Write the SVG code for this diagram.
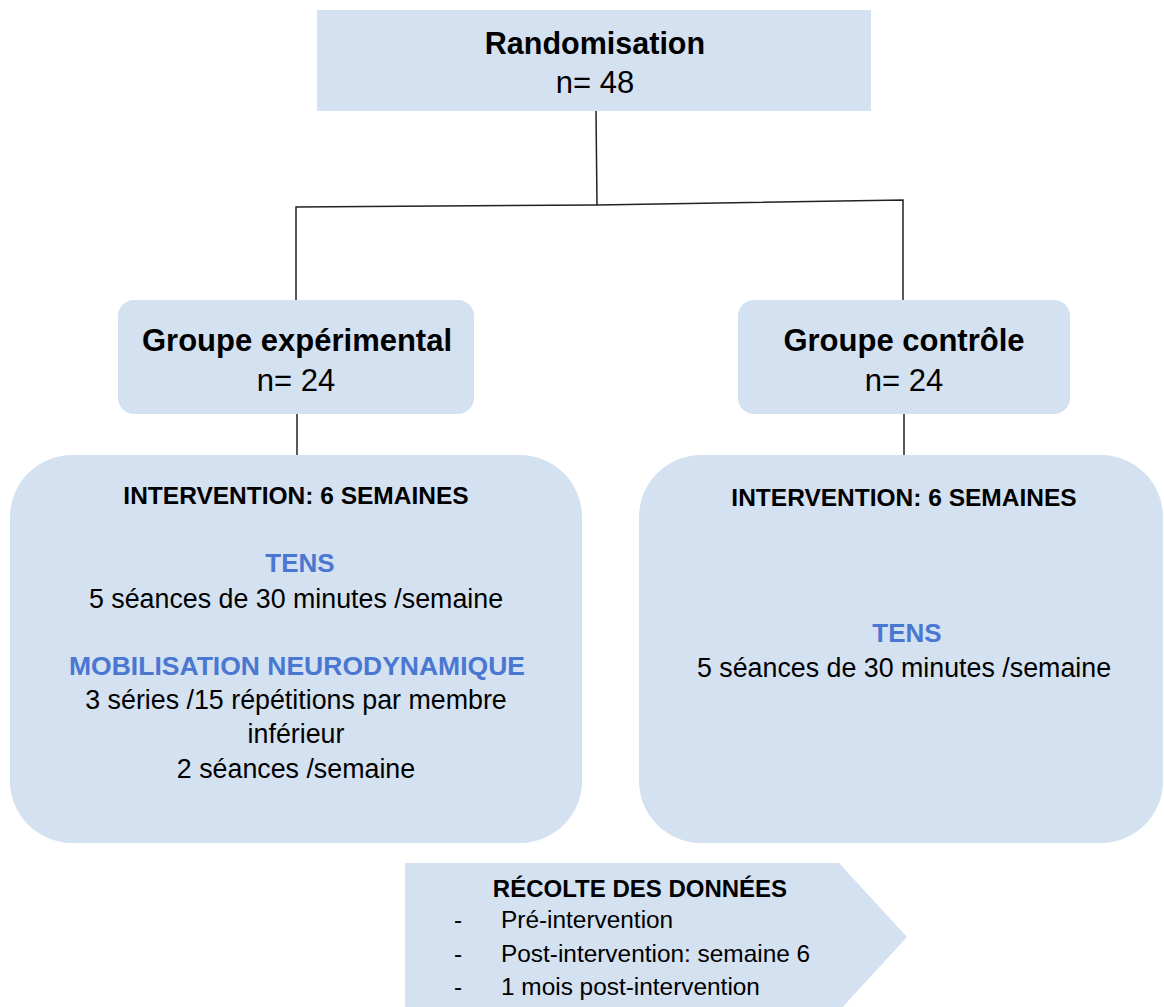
<svg xmlns="http://www.w3.org/2000/svg" width="1164" height="1007" viewBox="0 0 1164 1007">
<style>
.box{fill:#d4e1f1}
.t{font-family:"Liberation Sans",Arial,sans-serif;fill:#000;text-anchor:middle}
.b{font-weight:bold}
.blue{fill:#4a77d1;font-weight:bold}
.lines{stroke:#222;stroke-width:1.5;fill:none}
</style>
<rect width="1164" height="1007" fill="#fff"/>
<g id="connectors" class="lines">
<path d="M596 111 L597 205"/>
<path d="M296 300 L296 207 L597 205 L903 200 L903 300"/>
<path d="M297 414 L297 455"/>
<path d="M904 414 L904 455"/>
</g>
<g id="randomisation">
<rect class="box" x="317" y="10" width="554" height="101"/>
<text class="t b" x="595" y="54" font-size="30.5">Randomisation</text>
<text class="t" x="595" y="93" font-size="31">n= 48</text>
</g>
<g id="groupe-exp">
<rect class="box" x="118" y="300" width="356" height="114" rx="16"/>
<text class="t b" x="297" y="351" font-size="31">Groupe expérimental</text>
<text class="t" x="296" y="391" font-size="31">n= 24</text>
</g>
<g id="groupe-ctrl">
<rect class="box" x="738" y="300" width="332" height="114" rx="16"/>
<text class="t b" x="904" y="351" font-size="31">Groupe contrôle</text>
<text class="t" x="904" y="391" font-size="31">n= 24</text>
</g>
<g id="intervention-exp">
<rect class="box" x="10" y="455" width="572" height="388" rx="62"/>
<text class="t b" x="296" y="504" font-size="24.5">INTERVENTION: 6 SEMAINES</text>
<text class="t blue" x="300" y="572" font-size="26">TENS</text>
<text class="t" x="296" y="608" font-size="26.8">5 séances de 30 minutes /semaine</text>
<text class="t blue" x="297" y="675" font-size="26.5">MOBILISATION NEURODYNAMIQUE</text>
<text class="t" x="296" y="709" font-size="26.8">3 séries /15 répétitions par membre</text>
<text class="t" x="296" y="743" font-size="26.8">inférieur</text>
<text class="t" x="296" y="778" font-size="26.8">2 séances /semaine</text>
</g>
<g id="intervention-ctrl">
<rect class="box" x="639" y="455" width="524" height="388" rx="62"/>
<text class="t b" x="904" y="506" font-size="24.5">INTERVENTION: 6 SEMAINES</text>
<text class="t blue" x="907" y="642" font-size="26">TENS</text>
<text class="t" x="904" y="677" font-size="26.8">5 séances de 30 minutes /semaine</text>
</g>
<g id="recolte">
<polygon class="box" points="405,863 839,863 907,937 839,1011 405,1011"/>
<text class="t b" x="640" y="897" font-size="24">RÉCOLTE DES DONNÉES</text>
<g font-size="24.4" font-family="Liberation Sans, Arial, sans-serif">
<text x="454" y="928">-</text>
<text x="501" y="928">Pré-intervention</text>
<text x="454" y="962">-</text>
<text x="501" y="962">Post-intervention: semaine 6</text>
<text x="454" y="995">-</text>
<text x="501" y="995">1 mois post-intervention</text>
</g>
</g>
</svg>
